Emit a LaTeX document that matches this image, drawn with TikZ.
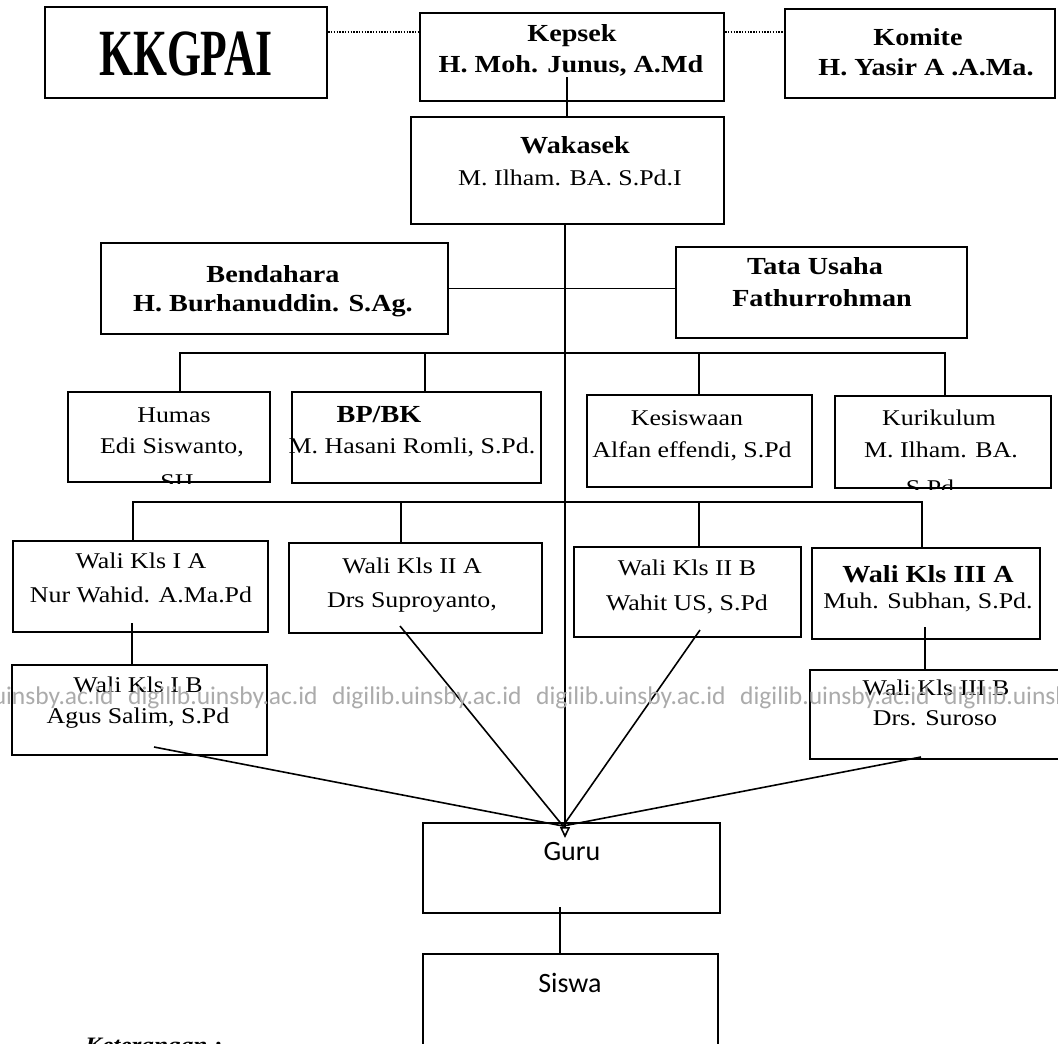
\documentclass[tikz,border=0pt]{standalone}
\usepackage{graphicx}
\usepackage{fontspec}
\setmainfont{Liberation Serif}[FakeStretch=1.15]
\newfontfamily\carlito{Carlito}
\usetikzlibrary{arrows.meta}
\newcommand\orgnode[5]{%
  \node[orgbox, minimum width={(#4-#2)*1pt}, minimum height={(#5-#3)*1pt}] (#1) at ({(#2+#4)/2},{(#3+#5)/2}) {};}
\begin{document}
\begin{tikzpicture}[x=1pt,y=-1pt,
  orgbox/.style={draw, line width=2.2pt, inner sep=0pt},
  conn/.style={line width=1.6pt},
  dotconn/.style={line width=1.3pt, dash pattern=on 1.4pt off 1.4pt},
  hb/.style={anchor=base, inner sep=0pt, font=\fontsize{24.5}{30}\selectfont\bfseries},
  hr/.style={anchor=base, inner sep=0pt, font=\fontsize{22.5}{30}\selectfont},
  hs/.style={anchor=base, inner sep=0pt, font=\fontsize{28}{30}\selectfont\carlito},
  wm/.style={anchor=base west, inner sep=0pt, text=black!33, font=\fontsize{25.5}{30}\selectfont\carlito}
]
\fill[white] (0,0) rectangle (1058,1044);
\useasboundingbox (0,0) rectangle (1058,1044);

% boxes
\orgnode{kkgpai}{45}{7}{327}{98}
\orgnode{kepsek}{420}{13}{724}{101}
\orgnode{komite}{785}{9}{1055}{98}
\orgnode{wakasek}{411}{117}{724}{224}
\orgnode{bendahara}{101}{243}{448}{334}
\orgnode{tatausaha}{676}{247}{967}{338}
\orgnode{humas}{68}{392}{270}{482}
\orgnode{bpbk}{292}{392}{541}{483}
\orgnode{kesiswaan}{587}{395}{812}{487}
\orgnode{kurikulum}{835}{396}{1051}{488}
\orgnode{waliIA}{13}{541}{268}{632}
\orgnode{waliIIA}{289}{543}{542}{633}
\orgnode{waliIIB}{574}{547}{801}{637}
\orgnode{waliIIIA}{812}{548}{1040}{639}
\orgnode{waliIB}{12}{665}{267}{755}
\orgnode{waliIIIB}{810}{670}{1064}{759}
\orgnode{guru}{423}{823}{720}{913}
\orgnode{siswa}{423}{954}{718}{1080}

% texts
\node[anchor=base, inner sep=0pt, font=\fontsize{66}{70}\selectfont\bfseries] (kkgpaiT) at (186,75) {\scalebox{0.575}[1]{KKGPAI}};
\node[hb] (kepsekT1) at (572,41) {Kepsek};
\node[hb] (kepsekT2) at (571,72) {H. Moh. Junus, A.Md};
\node[hb] (komiteT1) at (918,45) {Komite};
\node[hb] (komiteT2) at (926,75) {H. Yasir A .A.Ma.};
\node[hb] (wakasekT1) at (575,153) {Wakasek};
\node[hr] (wakasekT2) at (570,185) {M. Ilham. BA. S.Pd.I};
\node[hb] (bendaharaT1) at (273,282) {Bendahara};
\node[hb] (bendaharaT2) at (273,311) {H. Burhanuddin. S.Ag.};
\node[hb] (tatausahaT1) at (815,274) {Tata Usaha};
\node[hb] (tatausahaT2) at (822,306) {Fathurrohman};
\node[hr] (humasT1) at (174,422) {Humas};
\node[hr] (humasT2) at (172,453) {Edi Siswanto,};
\begin{scope}
  \clip (humas.north west) rectangle (humas.south east);
  \node[hr] (humasT3) at (177,489) {SH};
\end{scope}
\node[hb] (bpbkT1) at (379,422) {BP/BK};
\node[hr] (bpbkT2) at (412,453) {M. Hasani Romli, S.Pd.};
\node[hr] (kesiswaanT1) at (687,425) {Kesiswaan};
\node[hr] (kesiswaanT2) at (692,457) {Alfan effendi, S.Pd};
\node[hr] (kurikulumT1) at (939,425) {Kurikulum};
\node[hr] (kurikulumT2) at (941,457) {M. Ilham. BA.};
\begin{scope}
  \clip (kurikulum.north west) rectangle (kurikulum.south east);
  \node[hr] (kurikulumT3) at (930,495) {S.Pd};
\end{scope}
\node[hr] (waliIAT1) at (141,568) {Wali Kls I A};
\node[hr] (waliIAT2) at (141,602) {Nur Wahid. A.Ma.Pd};
\node[hr] (waliIIAT1) at (412,573) {Wali Kls II A};
\node[hr] (waliIIAT2) at (412,607) {Drs Suproyanto,};
\node[hr] (waliIIBT1) at (687,575) {Wali Kls II B};
\node[hr] (waliIIBT2) at (687,610) {Wahit US, S.Pd};
\node[hb] (waliIIIAT1) at (928,582) {Wali Kls III A};
\node[hr] (waliIIIAT2) at (928,608) {Muh. Subhan, S.Pd.};
\node[hr] (waliIBT1) at (138,692) {Wali Kls I B};
\node[hr] (waliIBT2) at (138,723) {Agus Salim, S.Pd};
\node[hr] (waliIIIBT1) at (936,695) {Wali Kls III B};
\node[hr] (waliIIIBT2) at (935,725) {Drs. Suroso};
\node[hs] (guruT) at (572,860) {Guru};
\node[hs] (siswaT) at (570,992) {Siswa};
\node[anchor=base west, inner sep=0pt, font=\fontsize{22}{26}\selectfont\bfseries\itshape] (ket) at (85,1052) {Keterangan :};

% dotted links
\draw[dotconn] ([yshift=-26pt]kkgpai.north east) -- ([yshift=-20pt]kepsek.north west);
\draw[dotconn] ([yshift=-20pt]kepsek.north east) -- ([yshift=-24pt]komite.north west);

% coordinates
\coordinate (kpin) at (567,77);
\coordinate (conv) at (563,826);
\coordinate (convtip) at (565,838);
\coordinate (b1a) at (180,353);
\coordinate (b1b) at (425,353);
\coordinate (b1c) at (699,353);
\coordinate (b1d) at (945,353);
\coordinate (b2a) at (133,502);
\coordinate (b2b) at (401,502);
\coordinate (b2c) at (699,502);
\coordinate (b2d) at (922,502);
\coordinate (iain) at (132,623);
\coordinate (iiiain) at (925,627);
\coordinate (sIB) at (154,747);
\coordinate (sIIA) at (400,626);
\coordinate (sIIB) at (700,630);
\coordinate (sIIIB) at (921,757);
\coordinate (guin) at (560,907);

% solid connectors
\draw[conn] (kpin) -- (kpin |- wakasek.north);
\draw[conn, -{Triangle[open,length=11pt,width=10pt]}] (wakasek.south -| convtip) -- (convtip);
\draw[conn] (bendahara.east) -- (bendahara.east -| tatausaha.west);
\draw[conn] (b1a |- humas.north) -- (b1a) -- (b1d) -- (b1d |- kurikulum.north);
\draw[conn] (b1b) -- (b1b |- bpbk.north);
\draw[conn] (b1c) -- (b1c |- kesiswaan.north);
\draw[conn] (b2a |- waliIA.north) -- (b2a) -- (b2d) -- (b2d |- waliIIIA.north);
\draw[conn] (b2b) -- (b2b |- waliIIA.north);
\draw[conn] (b2c) -- (b2c |- waliIIB.north);
\draw[conn] (iain) -- (iain |- waliIB.north);
\draw[conn] (iiiain) -- (iiiain |- waliIIIB.north);
\draw[conn] (sIB) -- (conv);
\draw[conn] (sIIA) -- (conv);
\draw[conn] (sIIB) -- (conv);
\draw[conn] (sIIIB) -- (conv);
\draw[conn] (guin) -- (guin |- siswa.north);

% watermark
\foreach \i in {0,...,5} {
  \node[wm] (wm\i) at ({-76+204*\i},704) {digilib.uinsby.ac.id};
}
\end{tikzpicture}
\end{document}
